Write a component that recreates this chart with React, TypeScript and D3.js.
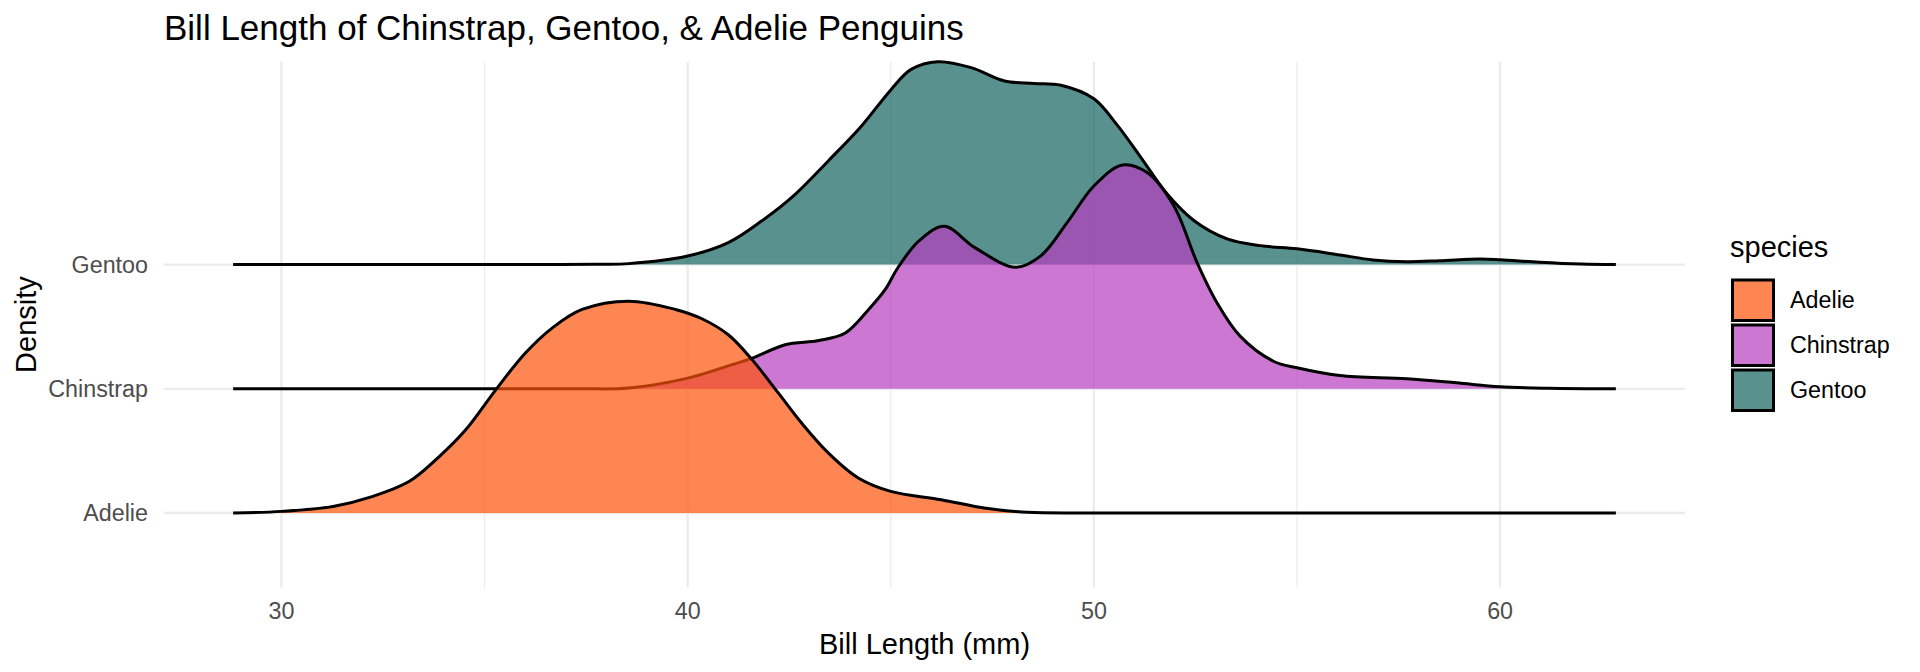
import React, { useMemo } from 'react';
import { scaleLinear, area as d3Area, line as d3Line, curveCatmullRom, max } from 'd3';

// bill length (mm) sample points and ridge heights (1 = one row step)
const adelieX = [28.81, 30.0, 31.27, 32.25, 33.15, 33.89, 34.54, 35.28, 36.01, 36.67, 37.4, 38.55, 39.7, 40.35, 41.0, 41.59, 42.23, 42.8, 43.46, 44.2, 45.0, 46.24, 47.3, 48.37, 50.0, 52.0, 55.0, 62.85];
const adelieH = [0, 0.013, 0.053, 0.134, 0.255, 0.456, 0.672, 0.994, 1.29, 1.491, 1.639, 1.706, 1.639, 1.564, 1.435, 1.233, 0.967, 0.726, 0.484, 0.282, 0.174, 0.107, 0.04, 0.005, 0, 0, 0, 0];

const chinstrapX = [28.81, 33.0, 35.3, 37.4, 38.55, 40.0, 41.08, 41.59, 42.4, 43.23, 43.88, 44.45, 44.86, 45.17, 45.7, 46.32, 47.07, 48.08, 48.7, 49.34, 50.0, 50.7, 51.31, 51.97, 52.54, 53.03, 53.6, 54.42, 55.0, 56.05, 57.7, 58.92, 60.0, 61.2, 62.85];
const chinstrapH = [0, 0, 0, 0, 0.006, 0.086, 0.193, 0.247, 0.355, 0.389, 0.449, 0.637, 0.798, 0.973, 1.193, 1.308, 1.137, 0.978, 1.072, 1.338, 1.633, 1.802, 1.741, 1.472, 1.016, 0.693, 0.424, 0.222, 0.169, 0.107, 0.081, 0.048, 0.016, 0.004, 0];

const gentooX = [28.81, 33.0, 35.5, 36.9, 37.8, 38.55, 40.0, 41.0, 41.82, 42.64, 43.46, 44.28, 45.01, 45.5, 46.16, 46.98, 47.8, 48.53, 49.19, 50.0, 50.58, 51.15, 51.8, 52.46, 53.28, 54.1, 55.0, 56.05, 56.87, 57.7, 58.51, 59.5, 60.0, 60.97, 62.0, 62.85];
const gentooH = [0, 0, 0, 0, 0.003, 0.008, 0.069, 0.177, 0.351, 0.564, 0.835, 1.117, 1.411, 1.572, 1.634, 1.586, 1.478, 1.459, 1.445, 1.336, 1.121, 0.866, 0.57, 0.355, 0.207, 0.153, 0.127, 0.078, 0.038, 0.024, 0.032, 0.046, 0.04, 0.019, 0.004, 0];

const species = ['Adelie', 'Chinstrap', 'Gentoo'];
const fills = ['rgb(252,82,9)', 'rgb(182,61,191)', 'rgb(19,98,96)'];
const xTicks = [30, 40, 50, 60];
const xMinor = [35, 45, 55];

const title = 'Bill Length of Chinstrap, Gentoo, & Adelie Penguins';
const xTitle = 'Bill Length (mm)';
const yTitle = 'Density';
const legendTitle = 'species';

type Pt = { x: number; h: number };

const W = 1920;
const H = 672;
const panel = { left: 164, right: 1685, top: 61.7, bottom: 587.5 };
const font = '"Liberation Sans", Arial, Helvetica, sans-serif';
const grid = '#EBEBEB';

export default function App() {
  const ridges = useMemo(() => {
    const xs = [adelieX, chinstrapX, gentooX];
    const hs = [adelieH, chinstrapH, gentooH];
    return species.map((name, i) => ({
      name,
      row: i,
      fill: fills[i],
      points: xs[i].map((x, j) => ({ x, h: hs[i][j] })) as Pt[],
    }));
  }, []);

  const xScale = useMemo(() => {
    const all = ridges.flatMap(r => r.points.map(p => p.x));
    const lo = Math.min(...all);
    const hi = Math.max(...all);
    const pad = (hi - lo) * 0.05;
    return scaleLinear().domain([lo - pad, hi + pad]).range([panel.left, panel.right]);
  }, [ridges]);

  const yScale = useMemo(() => {
    const top = max(ridges, r => r.row + (max(r.points, p => p.h) ?? 0)) ?? 3;
    return scaleLinear().domain([-0.6, top]).range([panel.bottom, panel.top]);
  }, [ridges]);

  // top ridge drawn first so lower ridges overlap it
  const drawOrder = [...ridges].reverse();
  const curve = curveCatmullRom.alpha(0.5);

  const legendX = 1731;
  const legendY = 278.5;
  const keyStep = 45;

  return (
    <div style={{ width: W, height: H }}>
      <style>{`body{margin:0;}`}</style>
      <svg width={W} height={H} viewBox={`0 0 ${W} ${H}`} style={{ display: 'block', background: '#fff' }} fontFamily={font}>
        {/* minor vertical grid */}
        {xMinor.map(t => (
          <line key={`mn${t}`} x1={xScale(t)} x2={xScale(t)} y1={panel.top} y2={panel.bottom} stroke={grid} strokeWidth={1.2} />
        ))}
        {/* major vertical grid */}
        {xTicks.map(t => (
          <line key={`mj${t}`} x1={xScale(t)} x2={xScale(t)} y1={panel.top} y2={panel.bottom} stroke={grid} strokeWidth={2.3} />
        ))}
        {/* horizontal grid at each ridge baseline */}
        {ridges.map(r => (
          <line key={`hg${r.name}`} x1={panel.left} x2={panel.right} y1={yScale(r.row)} y2={yScale(r.row)} stroke={grid} strokeWidth={2.3} />
        ))}

        {drawOrder.map(r => {
          const base = yScale(r.row);
          const areaGen = d3Area<Pt>()
            .x(d => xScale(d.x))
            .y0(base)
            .y1(d => Math.min(base, yScale(r.row + d.h)))
            .curve(curve);
          const lineGen = d3Line<Pt>()
            .x(d => xScale(d.x))
            .y(d => yScale(r.row + d.h))
            .curve(curve);
          return (
            <g key={r.name}>
              <path d={areaGen(r.points) || ''} fill={r.fill} fillOpacity={0.7} />
              <path d={lineGen(r.points) || ''} fill="none" stroke="#000" strokeWidth={3} strokeLinejoin="round" />
            </g>
          );
        })}

        {/* x tick labels */}
        {xTicks.map(t => (
          <text key={`xt${t}`} x={xScale(t)} y={619} textAnchor="middle" fontSize={23.3} fill="#4D4D4D">
            {t}
          </text>
        ))}
        {/* y tick labels */}
        {ridges.map(r => (
          <text key={`yt${r.name}`} x={148} y={yScale(r.row)} textAnchor="end" dominantBaseline="central" fontSize={23.3} fill="#4D4D4D">
            {r.name}
          </text>
        ))}

        {/* titles */}
        <text x={panel.left} y={40} fontSize={35} fill="#000">{title}</text>
        <text x={(panel.left + panel.right) / 2} y={653.5} textAnchor="middle" fontSize={29} fill="#000">
          {xTitle}
        </text>
        <text
          transform={`translate(36, ${(panel.top + panel.bottom) / 2}) rotate(-90)`}
          textAnchor="middle"
          fontSize={29}
          fill="#000"
        >
          {yTitle}
        </text>

        {/* legend */}
        <text x={1730} y={256.7} fontSize={29} fill="#000">{legendTitle}</text>
        {ridges.map((r, i) => (
          <g key={`lg${r.name}`}>
            <rect
              x={legendX + 1.5}
              y={legendY + i * keyStep + 1.5}
              width={41}
              height={40.5}
              fill={r.fill}
              fillOpacity={0.7}
              stroke="#000"
              strokeWidth={3}
            />
            <text x={1790} y={legendY + i * keyStep + 21.7} dominantBaseline="central" fontSize={23.3} fill="#000">
              {r.name}
            </text>
          </g>
        ))}
      </svg>
    </div>
  );
}
